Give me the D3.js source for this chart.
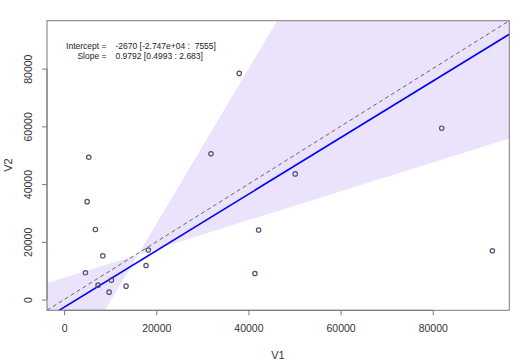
<!DOCTYPE html>
<html>
<head>
<meta charset="utf-8">
<script src="https://cdn.jsdelivr.net/npm/d3@7"></script>
<style>
  body { margin: 0; background: #fff; }
  svg text { font-family: "Liberation Sans", Arial, sans-serif; }
</style>
</head>
<body>
<div id="chart"></div>
<script>
var v1 = [5350, 38010, 31870, 81950, 50150, 4990, 6790, 8390, 4620, 7370,
          10260, 9760, 13440, 17780, 18280, 42210, 41410, 92940];
var v2 = [49300, 78360, 50480, 59370, 43540, 33920, 24300, 15170, 9270, 5000,
          6730, 2570, 4650, 11800, 17150, 24090, 9030, 16910];

// fit and confidence limits (as printed in the chart)
var fit = { intercept: -2670, slope: 0.9792 };
var ciIntercept = [-27470, 7555];
var ciSlope = [2.683, 0.4993];
var fitLabels = ['Intercept =', 'Slope ='];
var fitValues = ['-2670 [-2.747e+04 :  7555]', '0.9792 [0.4993 : 2.683]'];

var xTicks = [0, 20000, 40000, 60000, 80000];
var yTicks = [0, 20000, 40000, 60000, 80000];
var lim = [0, 92900];

var W = 523, H = 364;
var box = { left: 47, right: 509.3, top: 20.7, bottom: 310.3 };

var pad = (lim[1] - lim[0]) * 0.04;
var x = d3.scaleLinear().domain([lim[0] - pad, lim[1] + pad]).range([box.left, box.right]);
var y = d3.scaleLinear().domain([lim[0] - pad, lim[1] + pad]).range([box.bottom, box.top]);

var svg = d3.select('#chart').append('svg').attr('width', W).attr('height', H);

svg.append('clipPath').attr('id', 'plotclip')
  .append('rect')
  .attr('x', box.left).attr('y', box.top)
  .attr('width', box.right - box.left).attr('height', box.bottom - box.top);

var plot = svg.append('g').attr('clip-path', 'url(#plotclip)');

// confidence band between the two limit lines
var xd = x.domain();
var lineA = function(v){ return ciIntercept[0] + ciSlope[0] * v; };
var lineB = function(v){ return ciIntercept[1] + ciSlope[1] * v; };
var xi = (ciIntercept[1] - ciIntercept[0]) / (ciSlope[0] - ciSlope[1]);
var yi = lineA(xi);
var tris = [
  [[xd[0], lineB(xd[0])], [xi, yi], [xd[0], lineA(xd[0])]],
  [[xd[1], lineA(xd[1])], [xi, yi], [xd[1], lineB(xd[1])]]
];
plot.selectAll('path.band').data(tris).enter().append('path')
  .attr('class', 'band')
  .attr('d', function(t){
    return 'M' + t.map(function(p){ return x(p[0]) + ',' + y(p[1]); }).join('L') + 'Z';
  })
  .attr('fill', '#ebe3fc')
  .attr('stroke', 'none');

// 1:1 line
plot.append('line')
  .attr('x1', x(xd[0])).attr('y1', y(xd[0]))
  .attr('x2', x(xd[1])).attr('y2', y(xd[1]))
  .attr('stroke', '#555').attr('stroke-width', 0.9)
  .attr('stroke-dasharray', '4,3');

// fitted line
plot.append('line')
  .attr('x1', x(xd[0])).attr('y1', y(fit.intercept + fit.slope * xd[0]))
  .attr('x2', x(xd[1])).attr('y2', y(fit.intercept + fit.slope * xd[1]))
  .attr('stroke', '#0000ff').attr('stroke-width', 1.6);

// points
plot.selectAll('circle').data(v1).enter().append('circle')
  .attr('cx', function(d){ return x(d); })
  .attr('cy', function(d, i){ return y(v2[i]); })
  .attr('r', 2.2)
  .attr('fill', 'none')
  .attr('stroke', '#4f4f75')
  .attr('stroke-width', 1.2);

// box
svg.append('rect')
  .attr('x', box.left).attr('y', box.top)
  .attr('width', box.right - box.left).attr('height', box.bottom - box.top)
  .attr('fill', 'none').attr('stroke', '#7a7a7a').attr('stroke-width', 1);

// axes
var xAxis = d3.axisBottom(x).tickValues(xTicks).tickSize(5).tickPadding(9)
  .tickFormat(d3.format('d'));
var gx = svg.append('g').attr('transform', 'translate(0,' + box.bottom + ')').call(xAxis);
gx.select('.domain').attr('d', 'M' + x(xTicks[0]) + ',0H' + x(xTicks[xTicks.length - 1]))
  .attr('stroke', '#7a7a7a');
gx.selectAll('.tick line').attr('stroke', '#7a7a7a');
gx.selectAll('.tick text').attr('font-size', '10.5px').attr('fill', '#333')
  .attr('font-family', '"Liberation Sans", Arial, sans-serif');

var yAxis = d3.axisLeft(y).tickValues(yTicks).tickSize(5).tickFormat(d3.format('d'));
var gy = svg.append('g').attr('transform', 'translate(' + box.left + ',0)').call(yAxis);
gy.select('.domain').attr('d', 'M0,' + y(yTicks[0]) + 'V' + y(yTicks[yTicks.length - 1]))
  .attr('stroke', '#7a7a7a');
gy.selectAll('.tick line').attr('stroke', '#7a7a7a');
gy.selectAll('.tick text')
  .attr('x', null).attr('dy', null)
  .attr('text-anchor', 'middle')
  .attr('transform', 'translate(-15,0) rotate(-90)')
  .attr('font-size', '10.5px').attr('fill', '#333')
  .attr('font-family', '"Liberation Sans", Arial, sans-serif');

// axis titles
svg.append('text').text('V1')
  .attr('x', 278).attr('y', 359)
  .attr('text-anchor', 'middle').attr('font-size', '11px').attr('fill', '#333');
svg.append('text').text('V2')
  .attr('transform', 'translate(12,165) rotate(-90)')
  .attr('text-anchor', 'middle').attr('font-size', '11px').attr('fill', '#333');

// fit annotation
var ann = svg.append('g').attr('font-size', '8.5px').attr('fill', '#222');
ann.selectAll('text.lab').data(fitLabels).enter().append('text')
  .attr('class', 'lab')
  .attr('x', 106.5).attr('y', function(d, i){ return 48.8 + i * 10; })
  .attr('text-anchor', 'end')
  .text(function(d){ return d; });
ann.selectAll('text.val').data(fitValues).enter().append('text')
  .attr('class', 'val')
  .attr('x', 115.5).attr('y', function(d, i){ return 48.8 + i * 10; })
  .style('white-space', 'pre')
  .text(function(d){ return d; });
</script>
</body>
</html>
